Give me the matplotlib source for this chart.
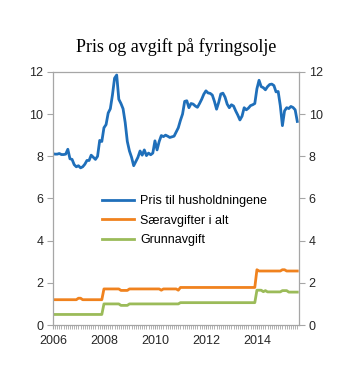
import numpy as np
import matplotlib.pyplot as plt

# monthly data, Jan 2006 - Aug 2015
pris = [8.12, 8.10, 8.10, 8.13, 8.08, 8.08, 8.10, 8.33, 7.88, 7.85, 7.60, 7.50,
        7.55, 7.45, 7.50, 7.62, 7.80, 7.80, 8.05, 7.95, 7.85, 8.00, 8.75, 8.70,
        9.35, 9.50, 10.05, 10.25, 10.90, 11.70, 11.85, 10.70, 10.50, 10.25, 9.60, 8.70,
        8.25, 7.95, 7.55, 7.75, 7.95, 8.25, 8.05, 8.30, 8.03, 8.15, 8.07, 8.15,
        8.73, 8.30, 8.70, 8.98, 8.93, 9.00, 8.95, 8.89, 8.92, 8.95, 9.15, 9.35,
        9.70, 10.00, 10.60, 10.63, 10.30, 10.50, 10.47, 10.38, 10.32, 10.50, 10.70, 10.94,
        11.10, 11.00, 10.98, 10.90, 10.60, 10.23, 10.55, 10.95, 10.99, 10.80, 10.47, 10.30,
        10.44, 10.38, 10.15, 9.95, 9.72, 9.90, 10.30, 10.20, 10.28, 10.40, 10.44, 10.50,
        11.20, 11.60, 11.30, 11.25, 11.15, 11.30, 11.40, 11.42, 11.35, 11.05, 11.07, 10.40,
        9.45, 10.15, 10.30, 10.26, 10.36, 10.31, 10.20, 9.65]

saer = ([1.20] * 12 + [1.27, 1.27] + [1.20] * 10 + [1.71] * 8 + [1.64] * 4
        + [1.71] * 15 + [1.65] + [1.71] * 7 + [1.65] + [1.78] * 36
        + [2.62] + [2.56] * 11 + [2.62, 2.62] + [2.56] * 6)

grunn = ([0.50] * 24 + [1.00] * 8 + [0.93] * 4 + [1.00] * 24 + [1.06] * 36
         + [1.65] * 3 + [1.58] + [1.63] + [1.57] * 7 + [1.63] * 3 + [1.56] * 5)

labels = ["Pris til husholdningene", "Særavgifter i alt", "Grunnavgift"]
colors = ["#1f6fba", "#f0821e", "#9bbb59"]
years = [2006, 2008, 2010, 2012, 2014]

x = 2006 + np.arange(len(pris)) / 12

fig = plt.figure(figsize=(3.53, 3.83), dpi=100)
ax = fig.add_axes([0.150, 0.1514, 0.697, 0.661])

for y, lab, c in zip([pris, saer, grunn], labels, colors):
    ax.plot(x, y, color=c, lw=2.0, label=lab)

ax.set_xlim(2006, 2015.65)
ax.set_ylim(0, 12)
ax.set_yticks(range(0, 13, 2))
ax.set_xticks(years)
ax.set_xticks(np.arange(2006, 2015.66, 1 / 12), minor=True)

gray = "#a6a6a6"
for s in ax.spines.values():
    s.set_color(gray)
    s.set_linewidth(0.9)

ax.tick_params(axis="y", right=True, labelright=True, length=4, color=gray,
               labelsize=9, labelcolor="#262626", pad=3)
ax.tick_params(axis="x", which="both", length=3, color=gray, labelsize=9,
               labelcolor="#262626", pad=4)
for t in ax.get_yticklabels() + ax.get_xticklabels():
    t.set_family("Liberation Sans")

leg = ax.legend(loc="upper left", bbox_to_anchor=(0.153, 0.558), frameon=False,
                handlelength=2.6, handletextpad=0.45, labelspacing=0.62,
                prop={"family": "Liberation Sans", "size": 9})

fig.text(0.5, 0.877, "Pris og avgift på fyringsolje", ha="center", va="center",
         family="Liberation Serif", fontsize=13)

fig.savefig("out.png", dpi=100)
